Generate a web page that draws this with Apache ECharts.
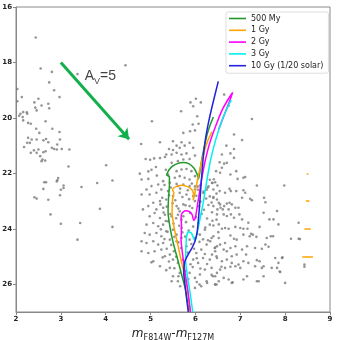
<!DOCTYPE html>
<html>
<head>
<meta charset="utf-8">
<script src="https://cdn.jsdelivr.net/npm/echarts@6/dist/echarts.min.js"></script>
<style>
  html, body { margin: 0; padding: 0; background: #fff; }
  #chart { width: 342px; height: 340px; }
</style>
</head>
<body>
<div id="chart"></div>
<script>
// tick labels
const xTicks = [2, 3, 4, 5, 6, 7, 8, 9];
const yTicks = [16, 18, 20, 22, 24, 26];

// field stars (colour, magnitude)
const starsLeft = [
  [2.44,17.10],[2.55,18.22],[2.80,18.34],[2.74,18.72],[2.85,19.00],[2.97,19.25],[3.37,18.42],[2.03,18.96],
  [2.13,19.25],[2.50,19.31],[4.44,18.10],
  [2.03,19.40],[2.41,19.44],[2.57,19.55],[2.72,19.49],[2.74,19.65],[2.43,19.63],[2.46,19.73],[2.07,19.92],
  [2.10,19.85],[2.16,19.79],[2.24,19.80],[2.25,19.85],[2.15,19.97],[2.16,20.09],[2.27,20.18],[2.33,20.21],
  [2.45,20.39],[2.52,20.54],[2.66,20.12],[2.81,20.39],[2.97,20.51],[2.27,20.72],[2.35,20.78],[2.31,20.90],
  [2.25,20.90],[2.46,20.78],[2.61,20.81],[2.67,20.76],[2.72,20.88],[2.18,21.05],[2.40,21.17],[2.50,21.14],
  [2.46,21.26],[2.33,21.26],[2.54,21.38],[2.61,21.24],[2.66,21.20],[2.59,21.50],[2.65,21.54],[2.57,21.56],
  [2.80,21.08],[2.85,21.12],[2.91,21.14],[2.92,20.96],[2.98,20.78],[3.02,21.12],[3.19,21.14],[3.17,21.75],
  [4.01,21.71],[4.15,22.26],[3.81,22.35],[3.46,22.49],[3.06,22.44],[3.06,22.53],[3.00,22.59],[2.94,22.17],
  [2.92,22.25],[2.91,22.29],[2.67,22.32],[2.63,22.32],[2.61,22.56],[2.98,22.79],[2.41,22.86],[2.46,22.91],
  [2.72,22.95],[3.87,23.28],[2.77,23.48],[3.00,23.82],[3.43,23.79],[4.15,23.93],[3.37,24.39]
];

const starsUpper = [
  [5.03,20.12],[4.79,20.94],[5.21,20.88],[4.89,21.48],[4.99,21.51],[5.08,21.46],[5.21,21.45],[5.32,21.41],
  [5.12,21.77],[4.95,21.93],[5.02,21.87],[4.76,22.01],[5.14,22.08],[5.34,21.87],
  [6.01,19.31],[6.12,19.44],[5.89,19.44],[5.95,19.58],[5.68,19.76],[6.64,19.16],[6.74,19.56],[7.26,20.04],
  [6.04,19.94],[6.07,20.21],[5.94,20.24],[5.73,20.54],[5.88,20.48],[5.99,20.45],[6.86,20.60],
  [5.99,22.47],[6.06,22.59],[6.18,22.71],[6.25,22.59],[6.32,22.83],[6.40,22.89],[6.29,22.47],[6.10,22.44],
  [6.32,22.23],[6.38,22.35]
];

const starsCore = [
  [5.50,20.84],[5.69,20.88],[5.58,21.00],[5.41,21.12],[5.50,21.16],[5.65,21.08],[5.76,21.00],[5.87,20.90],
  [5.95,21.08],[5.35,21.32],[5.47,21.32],[5.58,21.26],[5.69,21.32],[5.80,21.28],[5.99,21.36],[5.87,21.48],
  [5.73,21.50],[5.61,21.56],[5.47,21.62],[4.80,22.22],[4.95,22.20],[5.39,22.04],[5.58,21.92],
  [5.69,21.86],[5.80,21.84],[5.91,21.92],[5.99,22.10],[5.87,22.22],[5.76,22.16],[5.65,22.10],[5.54,22.16],
  [5.43,22.34],[5.28,22.28],[5.17,22.40],[5.02,22.46],[4.91,22.58],[4.80,22.76],[4.98,22.76],[5.13,22.70],
  [5.24,22.58],[5.39,22.64],[5.61,22.46],[5.73,22.40],[5.87,22.46],[5.99,22.58],[5.95,22.82],[5.80,22.76],
  [5.65,22.70],[5.50,22.82],[5.35,22.94],[5.21,23.00],[5.06,23.06],[4.95,23.18],[4.83,23.30],[5.13,23.30],
  [5.28,23.24],[5.58,23.18],[5.73,23.12],[5.87,23.18],[5.99,23.00],
  [4.98,23.55],[5.09,23.43],[5.21,23.61],[5.32,23.49],[5.47,23.55],[5.61,23.49],[5.65,23.37],[4.91,23.85],
  [5.06,23.79],[5.17,23.91],[5.28,23.85],[5.39,23.73],[5.69,23.67],[4.87,24.15],[4.98,24.21],[5.13,24.15],
  [5.24,24.27],[5.35,24.09],[5.50,24.03],[5.58,24.21],[5.69,23.97],[4.80,24.45],[4.91,24.51],[5.06,24.45],
  [5.17,24.57],[5.28,24.51],[5.43,24.39],[5.58,24.45],[5.69,24.33],[5.80,24.63],[5.87,24.39],[5.99,24.33],
  [6.10,24.21],[6.21,24.03],[6.32,23.85],[6.47,23.67],[6.36,24.33],[6.25,24.57],[6.43,24.69],[6.13,24.75],
  [6.02,24.87],[5.95,25.11],[6.06,25.23],[6.17,25.05],[6.32,25.11],[6.47,24.99],[6.36,25.41],[6.21,25.47],
  [6.10,25.65],[5.99,25.77],[5.87,25.59],[5.80,25.89],[6.39,25.71],[5.06,25.17],[5.02,25.21],[5.21,25.35],
  [5.32,24.99],[5.43,24.93],[5.50,25.11],[5.61,25.23],[5.43,25.41],[5.65,25.59],[5.50,25.71],[5.61,25.89],
  [5.66,26.07],[5.99,26.13],[6.13,26.07],[6.25,25.89],[6.47,26.01],[4.80,24.81],[4.95,24.87],[5.09,24.81],
  [5.24,24.75],[5.47,25.89],[6.09,26.01],[6.26,25.95],[6.44,26.01],[6.83,25.93],[7.37,25.89],
  [5.31,22.42],[5.45,22.51],[5.58,22.38],[5.66,22.55],[5.83,22.61],[5.92,22.37],[6.05,22.48],[6.18,22.66],
  [6.27,22.52],[5.26,22.88],[5.41,22.79],[5.55,22.97],[5.71,22.85],[5.86,22.93],[6.02,22.81],[6.11,23.02],
  [6.24,22.91],[6.36,23.05],[5.22,23.12],[5.36,23.20],[5.49,23.08],[5.62,23.27],[5.78,23.15],[5.93,23.25],
  [6.08,23.19],[6.19,23.31],[6.29,23.14],[5.29,23.41],[5.44,23.47],[5.57,23.62],[5.73,23.55],[5.88,23.43],
  [6.01,23.58],[6.14,23.46],[6.26,23.63],[5.34,23.72],[5.51,23.81],[5.64,23.89],[5.79,23.76],[5.95,23.92],
  [6.07,23.79],[6.22,23.95],[5.23,24.02],[5.38,24.11],[5.53,24.29],[5.71,24.13],[5.85,24.06],[6.04,24.18],
  [6.17,24.38],[5.31,24.37],[5.46,24.58],[5.62,24.49],[5.77,24.28],[5.91,24.55],[6.09,24.47],[6.28,24.41],
  [5.36,24.72],[5.52,24.81],[5.68,24.69],[5.83,24.86],[5.97,24.72],[6.21,24.91],[5.27,25.03],[5.41,25.18],
  [5.57,25.01],[5.72,25.12],[5.89,25.28],[6.03,25.06],[6.26,25.27],[5.35,25.49],[5.53,25.42],[5.77,25.52],
  [5.94,25.38],[6.11,25.43],[5.62,25.71],[5.84,25.81],[6.03,25.92],[6.41,22.21],[6.47,22.73],[6.56,23.24],
  [6.38,23.71],[6.51,24.12],[6.44,24.68],[6.58,25.37],[6.36,25.66]
];

const starsRight = [
  [6.69,21.00],[6.86,21.12],[7.04,20.80],[6.59,21.32],[6.78,21.28],[6.86,21.44],[6.54,21.60],[6.64,21.65],
  [6.70,21.62],[6.59,21.80],[6.46,21.92],[6.55,21.98],[6.78,22.04],[6.91,21.92],[6.94,22.20],[7.07,22.16],
  [7.11,22.13],[7.37,22.44],[7.98,22.44],[6.37,22.34],[6.44,22.32],[6.49,22.44],[6.40,22.58],[6.54,22.64],
  [6.66,22.70],[6.76,22.56],[6.79,22.64],[6.91,22.64],[7.07,22.61],[7.11,22.70],[7.04,22.88],[7.22,22.92],
  [7.26,22.97],[7.53,22.88],[7.56,23.04],[6.40,22.85],[6.48,22.94],[6.52,23.06],[6.40,23.18],[6.55,23.12],
  [6.64,23.18],[6.70,23.09],[6.76,23.06],[6.81,23.12],[6.74,23.30],[6.61,23.30],[6.49,23.30],[6.37,23.40],
  [6.89,23.24],[6.96,23.24],[6.79,23.48],[6.70,23.54],[6.63,23.48],[6.48,23.48],[6.86,23.60],[6.98,23.48],
  [7.04,23.66],[7.18,23.78],[7.52,23.42],[7.82,23.36],[7.65,23.66],[7.74,23.66],[7.85,23.84],[8.30,23.78],
  [6.52,23.84],[6.40,23.88],[6.59,24.00],[6.66,23.97],[6.74,24.00],[6.89,23.93],[7.00,23.97],[7.07,24.00],
  [7.16,24.00],[7.43,23.93],[7.24,24.18],[7.28,24.21],[7.21,24.27],[7.36,24.29],[7.07,24.21],[6.78,24.24],
  [6.86,24.36],[6.92,24.39],[6.40,24.27],[6.52,24.33],[6.33,24.45],[6.55,24.57],[6.66,24.51],[6.48,24.63],
  [6.78,24.69],[6.89,24.63],[7.04,24.75],[7.15,24.63],[7.33,24.69],[7.48,24.72],[7.59,24.33],[7.68,24.27],
  [7.73,24.27],[7.56,24.57],[7.63,24.65],[8.13,24.36],[8.30,24.36],[8.33,24.37],[7.13,24.93],[6.92,24.93],
  [6.81,24.99],[6.70,24.81],[6.63,24.75],[6.37,24.93],[6.44,24.81],[6.48,25.05],[6.59,25.17],[6.70,25.11],
  [6.81,25.23],[6.96,25.29],[7.07,25.17],[7.18,25.23],[7.37,25.13],[7.43,25.17],[7.52,25.35],[7.78,25.05],
  [7.93,25.05],[7.85,25.23],[7.82,25.41],[7.89,25.56],[7.70,25.41],[7.48,25.41],[7.33,25.35],[7.00,25.41],
  [6.89,25.35],[6.78,25.37],[6.66,25.41],[6.55,25.47],[6.48,25.59],[6.44,25.71],[6.63,25.77],[6.74,25.83],
  [6.81,25.95],[7.07,25.83],[7.15,25.71],[6.52,25.89],[6.44,26.01],[7.41,25.89],[7.52,25.71],[8.00,25.95],
  [8.43,25.29],[8.43,25.37],[7.94,25.03],[7.88,25.54]
];

// isochrones [colour, magnitude]
const iso500My = [
  [5.86,27.0],[5.78,26.2],[5.70,25.7],[5.62,25.2],[5.52,24.6],[5.44,24.0],[5.39,23.4],[5.40,22.9],
  [5.42,22.45],[5.42,22.12],[5.36,22.06],[5.37,22.0],[5.41,21.88],[5.49,21.74],[5.61,21.64],[5.73,21.61],
  [5.86,21.66],[5.96,21.8],[6.03,22.0],[6.07,22.2],[6.09,22.05],[6.13,21.6],[6.19,21.1],[6.26,20.6],
  [6.33,20.25],[6.40,19.97]
];
const iso1Gy = [
  [5.88,27.0],[5.82,26.2],[5.76,25.7],[5.69,25.2],[5.61,24.6],[5.53,24.0],[5.48,23.4],[5.49,22.95],
  [5.52,22.7],[5.49,22.6],[5.52,22.52],[5.60,22.46],[5.69,22.43],[5.79,22.46],[5.88,22.53],[5.94,22.64],
  [5.96,22.8],[5.95,22.97],[5.99,22.7],[6.05,22.2],[6.12,21.7],[6.20,21.2],[6.28,20.8],[6.37,20.5]
];
const iso2Gy = [
  [5.89,27.0],[5.83,26.2],[5.77,25.6],[5.72,25.0],[5.68,24.4],[5.69,23.9],[5.68,23.6],[5.70,23.44],
  [5.77,23.35],[5.87,23.38],[5.93,23.5],[5.96,23.7],[6.00,23.6],[6.04,23.2],[6.09,22.7],[6.14,22.2],
  [6.21,21.6],[6.32,20.9],[6.45,20.3],[6.60,19.7],[6.74,19.3],[6.83,19.08],[6.76,19.4],[6.64,19.9],
  [6.52,20.4]
];
const iso3Gy = [
  [5.94,27.0],[5.88,26.3],[5.82,25.7],[5.78,25.1],[5.79,24.6],[5.80,24.3],[5.84,24.11],[5.91,24.15],
  [5.95,24.3],[5.99,24.45],[6.03,24.2],[6.07,23.9],[6.12,23.5],[6.18,23.0],[6.25,22.3],[6.34,21.5],
  [6.45,20.8],[6.59,20.1],[6.72,19.6],[6.80,19.35]
];
const iso10Gy = [
  [5.84,27.0],[5.78,26.2],[5.74,25.6],[5.76,25.2],[5.83,24.95],[5.92,24.7],[5.99,24.45],[6.04,24.1],
  [6.07,23.6],[6.10,23.0],[6.13,22.3],[6.17,21.5],[6.22,20.8],[6.30,20.1],[6.40,19.4],[6.51,18.68]
];

// photometric errors at the right edge
const errMag = [22, 23, 24, 25];
const errColour = [0.02, 0.04, 0.07, 0.12];
const errX = 8.5;

// extinction vector
const avStart = [3.0, 18.0];
const avEnd = [4.52, 20.77];

const chart = echarts.init(document.getElementById('chart'));

const font = 'DejaVu Sans';
const axisColor = '#888';

function isoSeries(name, data, color) {
  return {
    name: name,
    type: 'line',
    data: data,
    symbol: 'none',
    smooth: 0.15,
    z: 5,
    lineStyle: { color: color, width: 1.5 },
    itemStyle: { color: color }
  };
}

const stars = starsLeft.concat(starsUpper, starsCore, starsRight);

chart.setOption({
  animation: false,
  textStyle: { fontFamily: font },
  grid: {
    left: 16, right: 12, top: 7, bottom: 28,
    containLabel: false,
    outerBoundsMode: 'none',
    show: true, borderColor: axisColor, borderWidth: 1
  },
  legend: {
    orient: 'vertical',
    left: 226, top: 12,
    padding: [1.5, 5, 2.5, 3],
    icon: 'rect',
    itemWidth: 17, itemHeight: 1.6, itemGap: 1.8,
    backgroundColor: '#fff',
    borderColor: '#ddd', borderWidth: 1, borderRadius: 2,
    textStyle: { fontSize: 8, lineHeight: 10, color: '#222', fontFamily: font },
    data: ['500 My', '1 Gy', '2 Gy', '3 Gy', '10 Gy (1/20 solar)']
  },
  xAxis: {
    type: 'value',
    min: 2, max: 9, interval: 1,
    axisLine: { show: true, lineStyle: { color: axisColor } },
    axisTick: { show: true, length: 3, lineStyle: { color: axisColor } },
    splitLine: { show: false },
    axisLabel: {
      fontSize: 7, fontWeight: 'bold', color: '#222', margin: 4,
      formatter: v => xTicks.includes(v) ? String(v) : ''
    },
    name: '{m|m}{s|F814W}{t|-}{m|m}{s|F127M}',
    nameLocation: 'middle',
    nameGap: 14,
    nameTextStyle: {
      rich: {
        m: { fontSize: 12, fontStyle: 'italic', color: '#222', fontFamily: font, lineHeight: 16, verticalAlign: 'middle' },
        s: { fontSize: 8, color: '#222', fontFamily: font, lineHeight: 10, verticalAlign: 'bottom' },
        t: { fontSize: 12, color: '#222', fontFamily: font, lineHeight: 16, verticalAlign: 'middle' }
      }
    }
  },
  yAxis: {
    type: 'value',
    inverse: true,
    min: 16, max: 27, interval: 2,
    axisLine: { show: true, lineStyle: { color: axisColor } },
    axisTick: { show: true, length: 3, lineStyle: { color: axisColor } },
    splitLine: { show: false },
    axisLabel: {
      fontSize: 7, fontWeight: 'bold', color: '#222', margin: 4,
      showMaxLabel: false,
      formatter: v => yTicks.includes(v) ? String(v) : ''
    }
  },
  series: [
    {
      type: 'scatter',
      data: stars,
      symbolSize: 2.6,
      z: 2,
      itemStyle: { color: '#7b7b7b' },
      silent: true
    },
    {
      type: 'lines',
      coordinateSystem: 'cartesian2d',
      z: 3,
      data: errMag.map((m, i) => ({ coords: [[errX - errColour[i], m], [errX + errColour[i], m]] })),
      lineStyle: { color: '#ffa500', width: 1.5, opacity: 1 }
    },
    isoSeries('500 My', iso500My, '#22992b'),
    isoSeries('1 Gy', iso1Gy, '#ffa500'),
    isoSeries('2 Gy', iso2Gy, '#ff00ff'),
    isoSeries('3 Gy', iso3Gy, '#00f0f0'),
    isoSeries('10 Gy (1/20 solar)', iso10Gy, '#2222dd'),
    {
      type: 'lines',
      coordinateSystem: 'cartesian2d',
      z: 6,
      symbol: ['none', 'arrow'],
      symbolSize: 10,
      data: [{ coords: [avStart, avEnd] }],
      lineStyle: { color: '#12b04c', width: 3, opacity: 1 }
    },
    {
      type: 'scatter',
      data: [[3.88, 18.51]],
      symbolSize: 0,
      z: 6,
      silent: true,
      label: {
        show: true,
        position: 'inside',
        formatter: '{a|A}{s|V}{a|=5}',
        rich: {
          a: { fontSize: 14, color: '#111', fontFamily: 'Liberation Sans', lineHeight: 18, verticalAlign: 'middle' },
          s: { fontSize: 9, color: '#111', fontFamily: 'Liberation Sans', lineHeight: 11, verticalAlign: 'bottom' }
        }
      }
    }
  ]
});
</script>
</body>
</html>
